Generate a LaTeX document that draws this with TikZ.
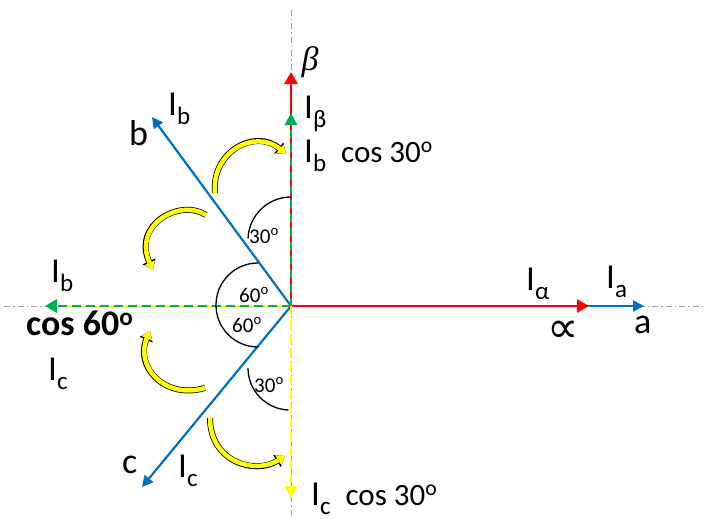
\documentclass[tikz,border=0pt]{standalone}
\usepackage{fontspec}
\setmainfont{Carlito}
\newfontfamily\greekserif{Liberation Serif}
\newfontfamily\symfont{DejaVu Sans}
\usetikzlibrary{arrows.meta,calc}
\definecolor{oblue}{RGB}{0,112,192}
\definecolor{ored}{RGB}{255,0,0}
\definecolor{ogreen}{RGB}{0,176,80}
\definecolor{oyellow}{RGB}{255,255,0}
\definecolor{axgray}{RGB}{160,160,160}
\newcommand\bigI{{\fontsize{35}{40}\selectfont I}}
\newcommand\subs[1]{\raisebox{-9pt}{\fontsize{25}{28}\selectfont #1}}
\newcommand\dg{\textsuperscript{o}}
\begin{document}
\begin{tikzpicture}[x=1pt,y=-1pt,
  lbl/.style={inner sep=0pt,font=\fontsize{31}{34}\selectfont},
  letter/.style={inner sep=0pt,font=\fontsize{36}{40}\selectfont},
  ang/.style={inner sep=0pt,font=\fontsize{21}{24}\selectfont},
  axis/.style={draw=axgray,line width=1pt,dash pattern=on 6pt off 3pt on 1.5pt off 3pt},
  vecblue/.style={draw=oblue,line width=2.2pt,-{Triangle[length=11pt,width=11pt]}},
  vecred/.style={draw=ored,line width=2.8pt,-{Triangle[length=12pt,width=13pt]}},
  arcline/.style={draw=black,line width=1.3pt},
  turn/.style={draw=oyellow,line width=4.5pt,-{Triangle[length=8pt,width=11pt]},
    preaction={draw=black,line width=6pt,-{Triangle[length=9.5pt,width=13.5pt]}}}
]
\useasboundingbox (0,0) rectangle (704,519);
\coordinate (O) at (291,306);
\coordinate (axL) at (4,306);
\coordinate (axR) at (704,306);
\coordinate (axT) at (291,10);
\coordinate (axB) at (291,519);
\coordinate (btip) at (152,117);
\coordinate (ctip) at (142,487);
\coordinate (atip) at (644,306);
\coordinate (alpha) at (589,306);
\coordinate (beta) at (291,72);
\coordinate (gtop) at (291,113);
\coordinate (gleft) at (45,306);
\coordinate (ybot) at (291,498);
% axes
\draw[axis] (axL) -- (axR);
\draw[axis] (axT) -- (axB);
% blue phase vectors
\draw[vecblue] (O) -- (btip);
\draw[vecblue] (O) -- (ctip);
\draw[vecblue] (O) -- (atip);
% red alpha-beta
\draw[vecred] (O) -- (alpha);
\draw[vecred] (O) -- (beta);
% green dashed over beta
\draw[draw=ogreen,line width=2.6pt,dash pattern=on 8pt off 6pt] (O) -- ($(gtop)+(0,10)$);
\draw[draw=none,fill=ogreen] (gtop) -- ++(-6.5,12) -- ++(13,0) -- cycle;
% left dashed green/yellow
\draw[draw=oyellow,line width=2.4pt,dash pattern=on 3pt off 11pt,dash phase=-10pt] (O) -- (57,306);
\draw[draw=ogreen,line width=2.6pt,dash pattern=on 9pt off 5pt] (O) -- (57,306);
\draw[draw=none,fill=ogreen] (gleft) -- ++(12,-7) -- ++(0,14) -- cycle;
% lower yellow dashed
\draw[draw=oyellow,line width=2.6pt,dash pattern=on 9pt off 5pt] (O) -- (291,487);
\draw[draw=none,fill=oyellow] (ybot) -- ++(-6.5,-12) -- ++(13,0) -- cycle;
% angle arcs
\draw[arcline] (291,197) arc[start angle=-90,end angle=-178,radius=43];
\draw[arcline] (258,263) arc[start angle=-90,end angle=-270,radius=42];
\draw[arcline] (248,368) arc[start angle=180,end angle=92,radius=42];
% curved yellow arrows
\draw[turn] (215,193) .. controls (211,152) and (255,128) .. (286,154);
\draw[turn] (206,215) .. controls (180,198) and (132,225) .. (153,270);
\draw[turn] (205,388) .. controls (163,400) and (135,365) .. (150,331);
\draw[turn] (210,418) .. controls (210,462) and (255,475) .. (285,456);
% labels
\node[inner sep=0pt,font=\fontsize{34}{38}\selectfont\greekserif\itshape] (lbeta) at (310,62) {β};
\node[lbl,anchor=base west] (lIbeta) at (304,118) {\bigI\subs{β}};
\node[lbl,anchor=base west] (lIbcos) at (304,162) {\bigI\subs{b}\hspace{15pt}cos 30\dg};
\node[lbl,anchor=base west] (lIbtip) at (168,115) {\bigI\subs{b}};
\node[letter,anchor=base west] (lb) at (129,145) {b};
\node[lbl,anchor=base west] (lIbleft) at (51,282) {\bigI\subs{b}};
\node[lbl,anchor=base west,font=\fontsize{36}{40}\selectfont\bfseries] (lcos60) at (26,335) {cos 60\dg};
\node[lbl,anchor=base west] (lIcleft) at (48,380) {\bigI\subs{c}};
\node[letter,anchor=base west] (lc) at (122,473) {c};
\node[lbl,anchor=base west] (lIctip) at (178,477) {\bigI\subs{c}};
\node[lbl,anchor=base west] (lIccos) at (311,505) {\bigI\subs{c}\hspace{15pt}cos 30\dg};
\node[lbl,anchor=base west] (lIalpha) at (526,290) {\bigI\subs{α}};
\node[lbl,anchor=base west] (lIa) at (606,288) {\bigI\subs{a}};
\node[inner sep=0pt,font=\fontsize{44}{48}\selectfont\symfont] (lprop) at (563,332) {∝};
\node[letter,anchor=base west] (la) at (634,333) {a};
\node[ang] (ang1) at (264,236) {30\dg};
\node[ang] (ang2) at (254,295) {60\dg};
\node[ang] (ang3) at (247,325) {60\dg};
\node[ang] (ang4) at (269,385) {30\dg};
\end{tikzpicture}
\end{document}
